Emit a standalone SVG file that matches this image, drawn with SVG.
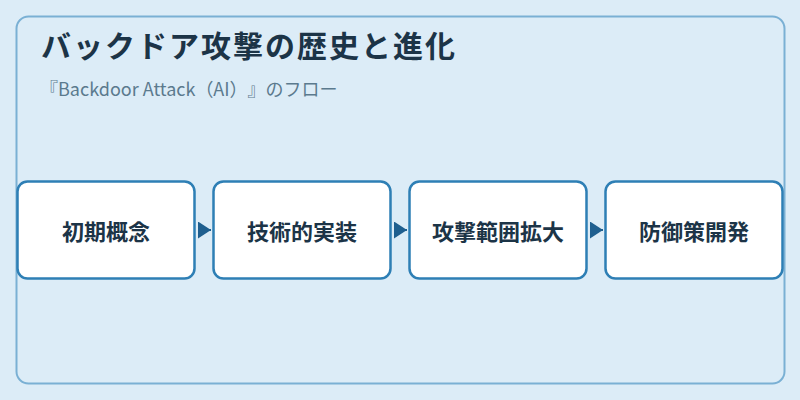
<svg xmlns="http://www.w3.org/2000/svg" width="800" height="400" viewBox="0 0 800 400">
<defs>
<style>
.node rect{fill:#ffffff;stroke:#2e7fb5;stroke-width:2.5}
.node text{font-family:"Noto Sans CJK JP","Noto Sans",sans-serif;font-weight:700;font-size:22px;fill:#1c3447;text-anchor:middle;dominant-baseline:central}
.title{font-family:"Noto Sans CJK JP","Noto Sans",sans-serif;font-weight:700;font-size:30px;fill:#1c3447;letter-spacing:2px}
.sub{font-family:"Noto Sans CJK JP","Noto Sans",sans-serif;font-size:18px;fill:#5b7a8e;text-spacing-trim:space-all}
.conn line{stroke:#1f5f8f;stroke-width:2}
</style>
<marker id="arr" viewBox="0 0 13 17" refX="13" refY="8.5" markerWidth="13" markerHeight="17" markerUnits="userSpaceOnUse" orient="auto">
<path d="M0,0 L13,8.5 L0,17 Z" fill="#1f5f8f"/>
</marker>
</defs>
<rect x="0" y="0" width="800" height="400" fill="#dcecf7"/>
<rect x="16.5" y="16.5" width="768" height="367" rx="12" fill="#dcecf7" stroke="#7ab0d4" stroke-width="2"/>
<text class="title" x="41" y="57">バックドア攻撃の歴史と進化</text>
<text class="sub" x="40" y="96">『Backdoor Attack（AI）』のフロー</text>
<g class="conn">
<line x1="198" y1="230" x2="211" y2="230" marker-end="url(#arr)"/>
<line x1="394" y1="230" x2="407" y2="230" marker-end="url(#arr)"/>
<line x1="590" y1="230" x2="603" y2="230" marker-end="url(#arr)"/>
</g>
<g id="node1" class="node"><rect x="17.5" y="181.5" width="177" height="97" rx="10"/><text x="106" y="230">初期概念</text></g>
<g id="node2" class="node"><rect x="213.5" y="181.5" width="177" height="97" rx="10"/><text x="302" y="230">技術的実装</text></g>
<g id="node3" class="node"><rect x="409.5" y="181.5" width="177" height="97" rx="10"/><text x="498" y="230">攻撃範囲拡大</text></g>
<g id="node4" class="node"><rect x="605.5" y="181.5" width="177" height="97" rx="10"/><text x="694" y="230">防御策開発</text></g>
</svg>
